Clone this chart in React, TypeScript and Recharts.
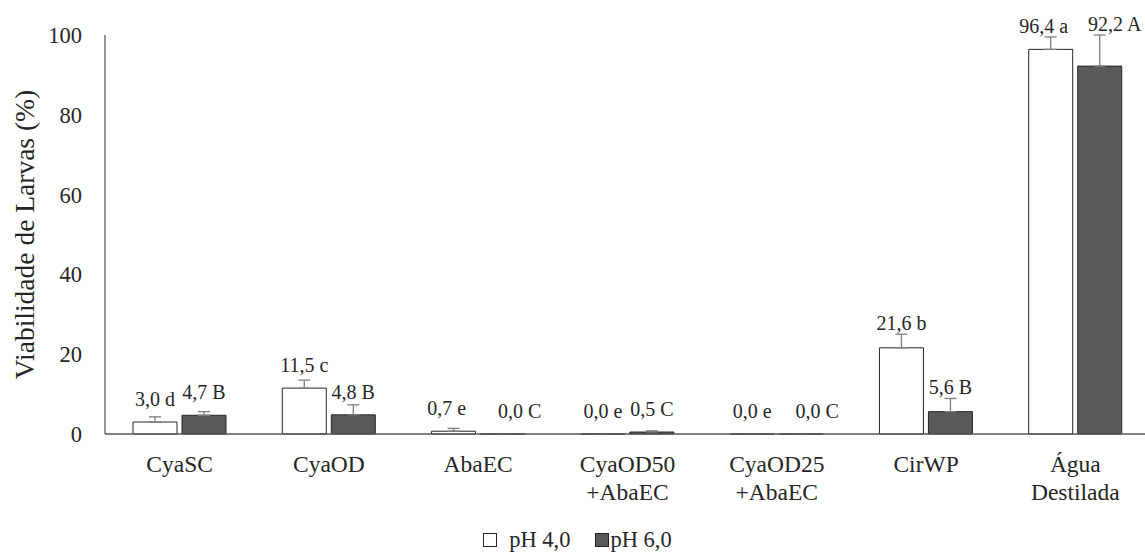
import { Bar, BarChart, ErrorBar, LabelList, Legend, XAxis, YAxis } from 'recharts'

const categories = ['CyaSC', 'CyaOD', 'AbaEC', 'CyaOD50\n+AbaEC', 'CyaOD25\n+AbaEC', 'CirWP', 'Água\nDestilada']
const ph4 = [3.0, 11.5, 0.7, 0.0, 0.0, 21.6, 96.4]
const ph6 = [4.7, 4.8, 0.0, 0.5, 0.0, 5.6, 92.2]
const err4 = [1.3, 2.0, 0.7, 0, 0, 3.4, 3.1]
const err6 = [0.9, 2.5, 0, 0.3, 0, 3.3, 7.8]
const labels4 = ['3,0 d', '11,5 c', '0,7 e', '0,0 e', '0,0 e', '21,6 b', '96,4 a']
const labels6 = ['4,7 B', '4,8 B', '0,0 C', '0,5 C', '0,0 C', '5,6 B', '92,2 A']
const yTicks = [0, 20, 40, 60, 80, 100]

// sideways nudges of the labels that were moved apart in the original
const nudge4 = [0, 0, -7, 0, 0, 0, -7]
const nudge6 = [0, 0, 17, 0, 16, 0, 15]

const data = categories.map((name, i) => ({
  name,
  ph4: ph4[i],
  ph6: ph6[i],
  e4: [0, err4[i]],
  e6: [0, err6[i]],
  l4: labels4[i],
  l6: labels6[i],
}))

const font = "'Liberation Serif', 'Times New Roman', serif"
const ink = '#262626'
const plotTop = 35
const plotBottom = 434
const pxPerUnit = (plotBottom - plotTop) / 100

function CatTick(props: any) {
  const { x, y, payload } = props
  const lines = String(payload.value).split('\n')
  return (
    <text x={x} y={y} textAnchor="middle" fill={ink} style={{ fontSize: 23.5, fontFamily: font }}>
      {lines.map((l, i) => (
        <tspan key={i} x={x} dy={i === 0 ? 38 : 28}>{l}</tspan>
      ))}
    </text>
  )
}

// label above the bar, kept clear of the error bar top
function barLabel(vals: number[], errs: number[], nudge: number[]) {
  return (props: any) => {
    const { x, y, width, value, index } = props
    const errTop = plotBottom - (vals[index] + errs[index]) * pxPerUnit
    return (
      <text
        x={x + width / 2 + nudge[index]}
        y={Math.min(y - 16, errTop - 4)}
        textAnchor="middle"
        fill={ink}
        style={{ fontSize: 20, fontFamily: font }}
      >
        {value}
      </text>
    )
  }
}

function LegendBox() {
  const sq = (fill: string) => (
    <span style={{ display: 'inline-block', width: 12, height: 12, background: fill, border: '1px solid #262626' }} />
  )
  return (
    <div style={{ display: 'flex', justifyContent: 'center', alignItems: 'center', height: 30, fontFamily: font, fontSize: 22.5, color: ink, paddingLeft: 10 }}>
      {sq('#ffffff')}
      <span style={{ marginLeft: 12, marginRight: 24 }}>pH 4,0</span>
      {sq('#595959')}
      <span style={{ marginLeft: 2 }}>pH 6,0</span>
    </div>
  )
}

export default function App() {
  return (
    <div style={{ position: 'absolute', left: 0, top: 0, width: 1145, height: 556, overflow: 'hidden', background: '#fff', fontFamily: font }}>
      <BarChart
        width={1150}
        height={556}
        data={data}
        margin={{ top: plotTop, right: 0, left: 0, bottom: 0 }}
        barCategoryGap={28}
        barGap={5}
        style={{ fontFamily: font }}
      >
        <XAxis
          dataKey="name"
          height={92}
          interval={0}
          tickLine={false}
          tickSize={0}
          tickMargin={0}
          axisLine={{ stroke: '#595959', strokeWidth: 1.3 }}
          tick={<CatTick />}
        />
        <YAxis
          width={105}
          domain={[0, 100]}
          ticks={yTicks}
          tickLine={false}
          tickSize={0}
          tickMargin={23}
          axisLine={{ stroke: '#595959', strokeWidth: 1.3 }}
          tick={{ fill: ink, style: { fontSize: 22.5, fontFamily: font } }}
          label={{
            value: 'Viabilidade de Larvas (%)',
            angle: -90,
            position: 'center',
            dx: -28,
            fill: ink,
            style: { fontSize: 27.5, fontFamily: font },
          }}
        />
        <Legend
          verticalAlign="bottom"
          content={<LegendBox />}
          wrapperStyle={{ left: 0, width: 1145, top: 525, height: 30 }}
        />
        <Bar dataKey="ph4" name="pH 4,0" fill="#ffffff" stroke={ink} strokeWidth={1} minPointSize={0.01} isAnimationActive={false}>
          <ErrorBar dataKey="e4" width={6} stroke="#7f7f7f" strokeWidth={1.3} direction="y" />
          <LabelList dataKey="l4" content={barLabel(ph4, err4, nudge4)} />
        </Bar>
        <Bar dataKey="ph6" name="pH 6,0" fill="#595959" stroke={ink} strokeWidth={1} minPointSize={0.01} isAnimationActive={false}>
          <ErrorBar dataKey="e6" width={6} stroke="#7f7f7f" strokeWidth={1.3} direction="y" />
          <LabelList dataKey="l6" content={barLabel(ph6, err6, nudge6)} />
        </Bar>
      </BarChart>
    </div>
  )
}
